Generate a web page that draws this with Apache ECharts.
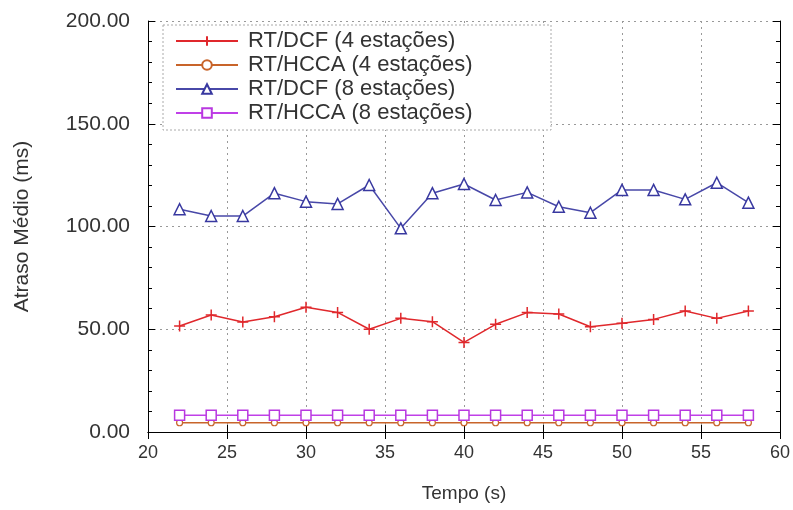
<!DOCTYPE html>
<html>
<head>
<meta charset="utf-8">
<script src="https://cdn.jsdelivr.net/npm/echarts@6/dist/echarts.min.js"></script>
<style>
  html, body { margin: 0; padding: 0; background: #fff; }
  #chart { width: 793px; height: 510px; }
</style>
</head>
<body>
<div id="chart"></div>
<script>
var tempos = [22, 24, 26, 28, 30, 32, 34, 36, 38, 40, 42, 44, 46, 48, 50, 52, 54, 56, 58];
var dcf4 = [51.6, 56.9, 53.5, 56.1, 60.7, 58.2, 50.0, 55.3, 53.7, 43.6, 52.4, 58.1, 57.4, 51.2, 52.9, 54.8, 58.9, 55.3, 58.9];
var hcca4 = [4.5, 4.5, 4.5, 4.5, 4.5, 4.5, 4.5, 4.5, 4.5, 4.5, 4.5, 4.5, 4.5, 4.5, 4.5, 4.5, 4.5, 4.5, 4.5];
var dcf8 = [108.4, 105.1, 105.1, 116.2, 112.1, 111.0, 120.2, 99.1, 116.2, 120.7, 112.9, 116.6, 109.6, 106.7, 117.8, 117.8, 113.2, 121.3, 111.6];
var hcca8 = [8.1, 8.1, 8.1, 8.1, 8.1, 8.1, 8.1, 8.1, 8.1, 8.1, 8.1, 8.1, 8.1, 8.1, 8.1, 8.1, 8.1, 8.1, 8.1];
var nomes = ["RT/DCF (4 estações)", "RT/HCCA (4 estações)", "RT/DCF (8 estações)", "RT/HCCA (8 estações)"];

var fonte = "Liberation Sans";
var corTexto = "#333";

function pares(ys) {
    return tempos.map(function (t, i) { return [t, ys[i]]; });
}

var gridLine = {
    show: true,
    lineStyle: { color: "#999", type: [2, 4], width: 1 },
};

var chart = echarts.init(document.getElementById("chart"));

var option = {
    animation: false,
    backgroundColor: "#fff",
    grid: { left: 148, right: 12, top: 21, bottom: 78 },
    graphic: [
        {
            type: "rect",
            z: 3,
            shape: { x: 163, y: 25, width: 388, height: 105 },
            style: { fill: "#fff", stroke: "#aaa", lineWidth: 1, lineDash: [2, 2] },
        },
    ],
    legend: {
        orient: "vertical",
        left: 163,
        top: 28,
        z: 5,
        padding: [2, 12],
        itemWidth: 62,
        itemHeight: 12,
        itemGap: 2,
        itemTextGap: 10,
        textStyle: { fontFamily: fonte, fontSize: 22, color: corTexto, padding: [0, 0, 0, 5] },
        data: nomes,
    },
    xAxis: [
        {
            type: "value",
            min: 20,
            max: 60,
            interval: 5,
            name: "Tempo (s)",
            nameLocation: "middle",
            nameGap: 52,
            nameTextStyle: { fontFamily: fonte, fontSize: 19, color: corTexto },
            axisLine: { lineStyle: { color: "#000", width: 1 } },
            axisTick: { inside: true, length: 7, lineStyle: { color: "#000" } },
            axisLabel: { fontFamily: fonte, fontSize: 18, color: corTexto, margin: 12 },
            splitLine: gridLine,
        },
        {
            type: "value",
            position: "top",
            min: 20,
            max: 60,
            interval: 5,
            axisLine: { lineStyle: { color: "#000", width: 1 } },
            axisTick: { inside: true, length: 7, lineStyle: { color: "#000" } },
            axisLabel: { show: false },
            splitLine: { show: false },
        },
    ],
    yAxis: [
        {
            type: "value",
            min: 0,
            max: 200,
            interval: 50,
            name: "Atraso Médio (ms)",
            nameLocation: "middle",
            nameGap: 115,
            nameTextStyle: { fontFamily: fonte, fontSize: 21, color: corTexto },
            axisLine: { show: true, lineStyle: { color: "#000", width: 1 } },
            axisTick: { inside: true, length: 7, lineStyle: { color: "#000" } },
            minorTick: { show: true, splitNumber: 5, length: 4, lineStyle: { color: "#000" } },
            axisLabel: {
                fontFamily: fonte,
                fontSize: 21,
                color: corTexto,
                margin: 18,
                formatter: function (v) { return v.toFixed(2); },
            },
            splitLine: gridLine,
        },
        {
            type: "value",
            position: "right",
            min: 0,
            max: 200,
            interval: 50,
            axisLine: { show: true, lineStyle: { color: "#000", width: 1 } },
            axisTick: { inside: true, length: 7, lineStyle: { color: "#000" } },
            minorTick: { show: true, splitNumber: 5, length: 4, lineStyle: { color: "#000" } },
            axisLabel: { show: false },
            splitLine: { show: false },
        },
    ],
    series: [
        {
            name: nomes[0],
            type: "line",
            data: pares(dcf4),
            symbol: "path://M0,5L10,5M5,0L5,10",
            symbolSize: 11,
            lineStyle: { color: "#E0282C", width: 1.5 },
            itemStyle: { color: "transparent", borderColor: "#E0282C", borderWidth: 1.5 },
        },
        {
            name: nomes[1],
            type: "line",
            data: pares(hcca4),
            symbol: "circle",
            symbolSize: 6,
            lineStyle: { color: "#C8642A", width: 1.5 },
            itemStyle: { color: "#fff", borderColor: "#C8642A", borderWidth: 1.2 },
        },
        {
            name: nomes[2],
            type: "line",
            data: pares(dcf8),
            symbol: "triangle",
            symbolSize: 11,
            lineStyle: { color: "#4848A8", width: 1.5 },
            itemStyle: { color: "#fff", borderColor: "#3838A0", borderWidth: 1.5 },
        },
        {
            name: nomes[3],
            type: "line",
            data: pares(hcca8),
            symbol: "rect",
            symbolSize: 10,
            lineStyle: { color: "#C040E8", width: 1.5 },
            itemStyle: { color: "#fff", borderColor: "#B838E0", borderWidth: 1.5 },
        },
    ],
};

chart.setOption(option);
</script>
</body>
</html>
